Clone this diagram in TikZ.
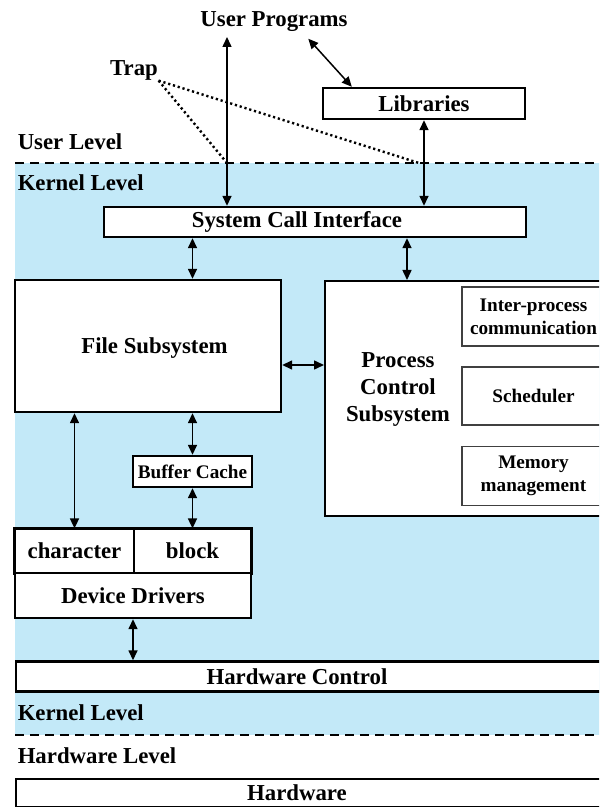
\documentclass[tikz,border=0pt]{standalone}
\usepackage{fontspec}
\setmainfont{Liberation Serif}
\usepackage{tikz}
\usetikzlibrary{arrows.meta,calc}
\definecolor{kblue}{RGB}{195,233,248}
\newcommand\mainf{\fontsize{11.4}{13.5}\selectfont\bfseries}
\newcommand\smallf{\fontsize{9.6}{11.5}\selectfont\bfseries}
\tikzset{
  >={Triangle[length=5pt,width=4.5pt]},
  bx/.style={draw,line width=1.2pt,fill=white,inner sep=0pt,font=\mainf},
  ib/.style={draw=black!75,line width=0.8pt,fill=white,inner sep=0pt,align=center,font=\smallf},
  cell/.style={draw,line width=0.6pt,fill=white,inner sep=0pt,font=\mainf},
  tx/.style={inner sep=0pt,align=center,font=\mainf},
  lv/.style={anchor=west,inner sep=0pt,font=\mainf},
  dsh/.style={line width=1.4pt,dash pattern=on 4.5pt off 3pt},
  dt/.style={line width=1.2pt,dash pattern=on 1.1pt off 1.4pt},
  every picture/.style={line width=0.75pt},
}
\begin{document}
\begin{tikzpicture}[x=0.5pt,y=-0.5pt]
\clip (0,0) rectangle (599,807);
% kernel area and level boundaries
\fill[kblue] (15,163) rectangle (620,735);
\draw[dsh] (15,163) -- (620,163);
\draw[dsh] (15,735) -- (620,735);
\coordinate (ub) at (0,163);
% user level
\node[tx] (up) at (274,22) {User Programs};
\node[tx] (trap) at (134,70) {Trap};
\node[bx,minimum width=101pt,minimum height=15.5pt] (lib) at (424,103.5) {Libraries};
\node[lv] (ulv) at (17,142) {User Level};
\node[lv] (klv) at (17,183) {Kernel Level};
% kernel boxes
\node[bx,minimum width=211pt,minimum height=15pt] (sci) at (315,222) {};
\node[tx] (scil) at (297,222) {System Call Interface};
\node[bx,minimum width=133pt,minimum height=66pt] (fs) at (148,346) {};
\node[tx] (fsl) at (154.5,348) {File Subsystem};
\node[bx,anchor=north west,minimum width=150pt,minimum height=117.5pt] (pcs) at (324,280) {};
\node[tx] (pcsl) at (398,389) {Process\\Control\\Subsystem};
\node[ib,minimum width=71.5pt,minimum height=29.5pt] (ipc) at (533.5,316.5) {Inter-process\\communication};
\node[ib,minimum width=71.5pt,minimum height=29pt] (sch) at (533.5,396) {Scheduler};
\node[ib,minimum width=71.5pt,minimum height=29.5pt] (mem) at (533.5,476) {Memory\\management};
\node[bx,font=\smallf,minimum width=59.5pt,minimum height=15.5pt] (bc) at (192.5,471.5) {Buffer Cache};
\node[cell,minimum width=59.5pt,minimum height=22pt] (chr) at (74.5,551) {character};
\node[cell,minimum width=58.5pt,minimum height=22pt] (blk) at (192.5,551) {block};
\draw[line width=1.2pt] (chr.north west) rectangle (blk.south east);
\node[bx,minimum width=118pt,minimum height=22.5pt] (drv) at (133,595.5) {Device Drivers};
\node[bx,anchor=west,minimum width=310pt,minimum height=15pt] (hwc) at (15,676.5) {};
\node[tx] (hwcl) at (297,677) {Hardware Control};
\node[lv] (klv2) at (17,713) {Kernel Level};
\node[lv] (hlv) at (17,756) {Hardware Level};
\node[bx,anchor=north west,minimum width=310pt,minimum height=14pt] (hw) at (15,778) {};
\node[tx] (hwl) at (297,793) {Hardware};
% connectors
\coordinate (upe) at (227,37);
\coordinate (pin) at ([xshift=41.5pt]pcs.north west);
\coordinate (fsr) at ([yshift=-9.5pt]fs.east);
\draw[<->] (upe) -- (sci.north -| upe);
\draw[<->] ([shift={(-20pt,-3pt)}]up.south east) -- ([xshift=15pt]lib.north west);
\draw[<->] (lib.south) -- (sci.north -| lib.south);
\draw[dt] (trap.south east) -- (upe |- ub);
\draw[dt] (trap.south east) -- ([xshift=-2.5pt]lib.south |- ub);
\draw[<->] (sci.south -| bc) -- (fs.north -| bc);
\draw[<->] (sci.south -| pin) -- (pin);
\draw[<->] (fsr) -- (pcs.west |- fsr);
\draw[<->] (fs.south -| chr) -- (chr.north);
\draw[<->] (fs.south -| bc) -- (bc.north);
\draw[<->] (bc.south) -- (blk.north);
\draw[<->] (drv.south) -- (hwc.north -| drv.south);
\end{tikzpicture}
\end{document}
